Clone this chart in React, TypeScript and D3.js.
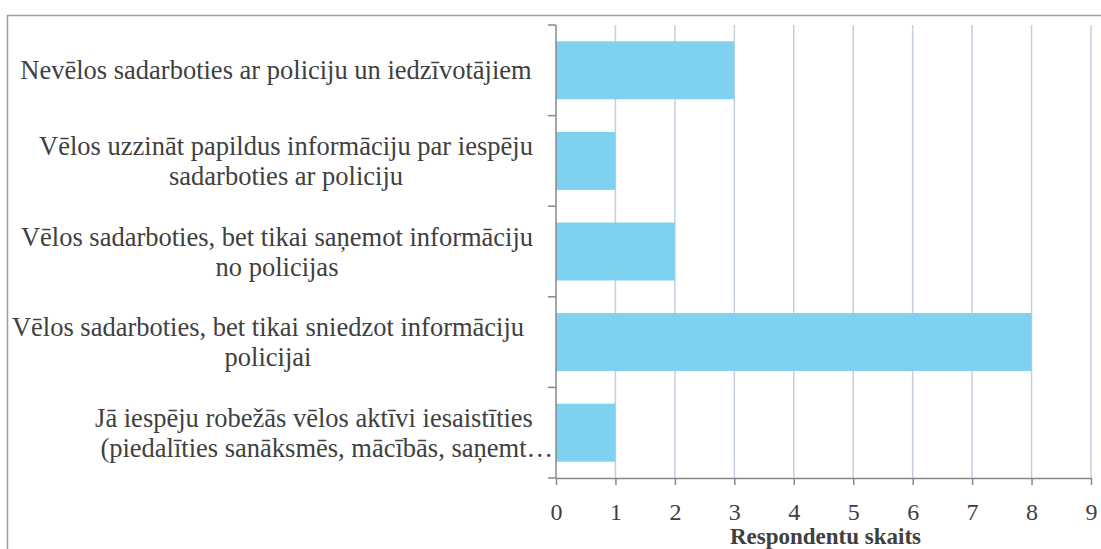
import React, { useEffect, useRef } from "react";
import * as d3 from "d3";

// categories top to bottom, each split into its display lines
const categories = [
  "Nevēlos sadarboties ar policiju un iedzīvotājiem",
  "Vēlos uzzināt papildus informāciju par iespēju sadarboties ar policiju",
  "Vēlos sadarboties, bet tikai saņemot informāciju no policijas",
  "Vēlos sadarboties, bet tikai sniedzot informāciju policijai",
  "Jā iespēju robežās vēlos aktīvi iesaistīties (piedalīties sanāksmēs, mācībās, saņemt…",
];
const labelLines = [
  ["Nevēlos sadarboties ar policiju un iedzīvotājiem"],
  ["Vēlos uzzināt papildus informāciju par iespēju", "sadarboties ar policiju"],
  ["Vēlos sadarboties, bet tikai saņemot informāciju", "no policijas"],
  ["Vēlos sadarboties, bet tikai sniedzot informāciju", "policijai"],
  ["Jā iespēju robežās vēlos aktīvi iesaistīties", "(piedalīties sanāksmēs, mācībās, saņemt…"],
];
const values = [3, 1, 2, 8, 1];
const xTicks = [0, 1, 2, 3, 4, 5, 6, 7, 8, 9];
const xTitle = "Respondentu skaits";

// horizontal centre of each label block (layout only)
const labelCenters = [276, 286, 277, 268, 314];
const FONT = "Liberation Serif";

function App() {
  const ref = useRef<SVGSVGElement>(null);

  useEffect(() => {
    const W = 1101, H = 549;
    const left = 556, right = 1091, top = 25, bottom = 478;
    const svg = d3.select(ref.current);
    svg.selectAll("*").remove();

    // outer frame
    svg.append("path")
      .attr("d", `M7.5,${H + 2} V15.5 H${W + 2}`)
      .attr("fill", "none")
      .attr("stroke", "#a0a0a0")
      .attr("stroke-width", 1.5);

    const x = d3.scaleLinear().domain([0, 9]).range([left, right]);
    const y = d3.scaleBand().domain(categories).range([top, bottom]).paddingInner(0.36).paddingOuter(0.18);

    // gridlines
    svg.append("g")
      .selectAll("line")
      .data(xTicks.filter(d => d > 0))
      .join("line")
      .attr("x1", d => x(d)).attr("x2", d => x(d))
      .attr("y1", top).attr("y2", bottom)
      .attr("stroke", "#c3cfe0")
      .attr("stroke-width", 1.5);

    // bars
    svg.append("g")
      .selectAll("rect")
      .data(values)
      .join("rect")
      .attr("x", x(0))
      .attr("y", (d, i) => y(categories[i])!)
      .attr("width", d => x(d) - x(0))
      .attr("height", y.bandwidth())
      .attr("fill", "#7fd1f0");

    // x axis
    const xAxis = svg.append("g")
      .attr("transform", `translate(0,${bottom})`)
      .call(d3.axisBottom(x).tickValues(xTicks).tickSize(7).tickPadding(8).tickSizeOuter(0));
    xAxis.attr("font-family", null).attr("font-size", null);
    xAxis.select(".domain").attr("stroke", "#888").attr("stroke-width", 1.5);
    xAxis.selectAll(".tick line").attr("stroke", "#888").attr("stroke-width", 1.5);
    xAxis.selectAll(".tick text")
      .attr("dy", null)
      .attr("y", 42)
      .style("font-size", "24px")
      .attr("fill", "#404040");

    // y axis (ticks between categories)
    const yBounds = d3.range(categories.length + 1).map(i => top + i * (bottom - top) / categories.length);
    svg.append("line")
      .attr("x1", left).attr("x2", left).attr("y1", top).attr("y2", bottom)
      .attr("stroke", "#888").attr("stroke-width", 1.5);
    svg.append("g")
      .selectAll("line")
      .data(yBounds)
      .join("line")
      .attr("x1", left - 8).attr("x2", left)
      .attr("y1", d => d).attr("y2", d => d)
      .attr("stroke", "#888").attr("stroke-width", 1.5);

    // category labels
    const lh = 30;
    labelLines.forEach((lines, i) => {
      const cy = y(categories[i])! + y.bandwidth() / 2;
      lines.forEach((ln, j) => {
        const last = i === 4 && j === 1;
        svg.append("text")
          .style("font-family", FONT)
          .style("font-size", "26.5px")
          .attr("fill", "#404040")
          .attr("text-anchor", last ? "end" : "middle")
          .attr("x", last ? 553 : labelCenters[i])
          .attr("y", cy + (j - (lines.length - 1) / 2) * lh + 9)
          .text(ln);
      });
    });

    // axis title
    svg.append("text")
      .attr("x", (left + right) / 2 + 2)
      .attr("y", 544)
      .attr("text-anchor", "middle")
      .style("font-weight", "bold")
      .style("font-size", "23px")
      .attr("fill", "#404040")
      .text(xTitle);
  }, []);

  return (
    <div style={{ position: "absolute", left: 0, top: 0 }}>
      <svg ref={ref} width={1101} height={549} style={{ display: "block", background: "#fff", fontFamily: FONT }} />
    </div>
  );
}

export default App;
